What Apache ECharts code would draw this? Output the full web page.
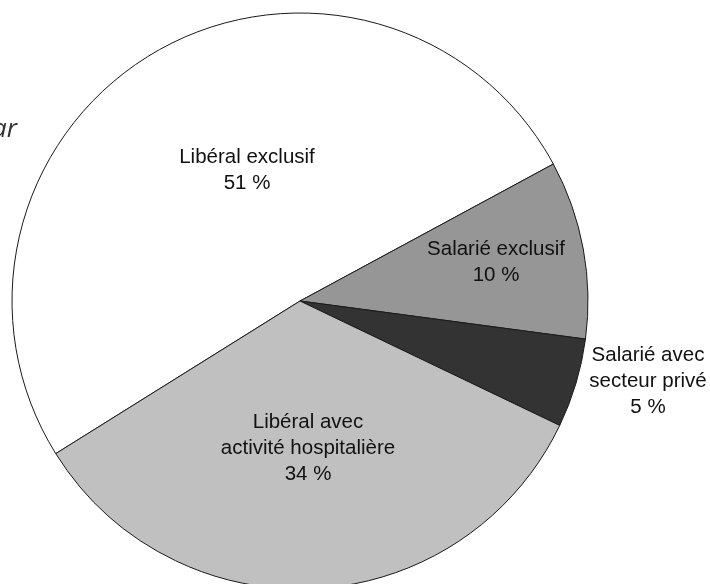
<!DOCTYPE html>
<html>
<head>
<meta charset="utf-8">
<script src="https://cdn.jsdelivr.net/npm/echarts@6/dist/echarts.min.js"></script>
<style>
  html, body { margin: 0; padding: 0; background: #ffffff; }
  #chart { width: 710px; height: 584px; }
</style>
</head>
<body>
<div id="chart"></div>
<script>
// Répartition des statuts d'exercice
const categories = [
  'Libéral exclusif',
  'Salarié exclusif',
  'Salarié avec\nsecteur privé',
  'Libéral avec\nactivité hospitalière'
];
const shares = [51, 10, 5, 34];
const sliceColors = ['#ffffff', '#969696', '#333333', '#c0c0c0'];

// Label anchors (block centre of each label, in px)
const labelAnchors = [
  [247, 170],
  [496, 262],
  [648, 381],
  [308, 448]
];

const chart = echarts.init(document.getElementById('chart'), null, { renderer: 'canvas' });

chart.setOption({
  backgroundColor: '#ffffff',
  animation: false,
  graphic: [{
    type: 'text',
    right: 693,
    top: 117,
    style: {
      text: 'ar',
      font: 'italic 26px "Open Sans"',
      fill: '#333333',
      textAlign: 'right'
    }
  }],
  series: [{
    type: 'pie',
    center: [300, 301],
    radius: 288,
    startAngle: 212,
    clockwise: true,
    avoidLabelOverlap: false,
    silent: true,
    itemStyle: {
      borderColor: '#1a1a1a',
      borderWidth: 1
    },
    label: {
      show: true,
      position: 'inside',
      formatter: '{b}\n{c} %',
      color: '#111111',
      fontFamily: '"Liberation Sans", Arial, sans-serif',
      fontSize: 20.5,
      lineHeight: 26,
      align: 'center'
    },
    labelLine: { show: false },
    labelLayout: function (params) {
      const p = labelAnchors[params.dataIndex];
      return { x: p[0], y: p[1], align: 'center', verticalAlign: 'middle' };
    },
    data: categories.map(function (name, i) {
      return { name: name, value: shares[i], itemStyle: { color: sliceColors[i] } };
    })
  }]
});
</script>
</body>
</html>
